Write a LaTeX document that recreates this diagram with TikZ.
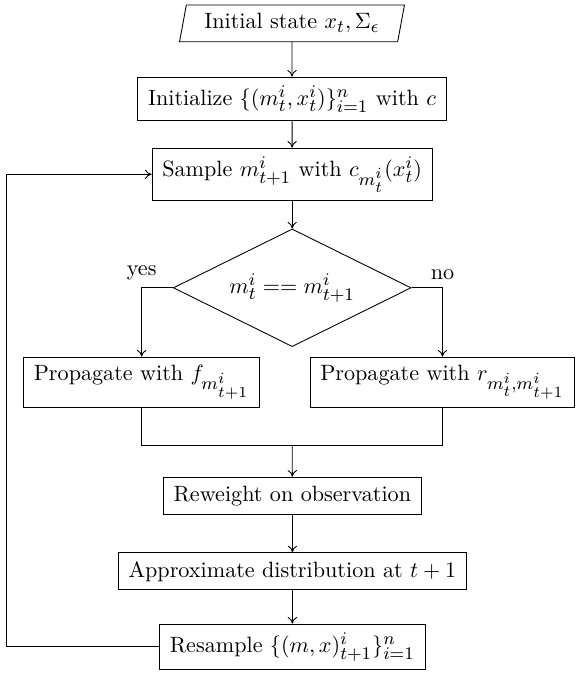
\documentclass[tikz,border=0pt]{standalone}
\DeclareMathSizes{10}{10}{8}{7}
\usetikzlibrary{shapes.geometric,arrows.meta}
\begin{document}
\begin{tikzpicture}[x=0.4513pt,y=-0.4513pt,
  box/.style={draw, rectangle, inner xsep=4.6pt, inner ysep=3.8pt},
  io/.style={draw, trapezium, trapezium left angle=71, trapezium right angle=109, trapezium stretches body, minimum width=101.5pt, minimum height=16.6pt, inner sep=0pt},
  dec/.style={draw, diamond, aspect=2, minimum width=107.3pt, minimum height=53.1pt, inner sep=0pt},
  arr/.style={-{To[length=3pt,width=4.2pt]}},
]
\useasboundingbox (0,0) rectangle (577,673);
\node[io] (init) at (292,23.4) {Initial state $x_t, \Sigma_\epsilon$};
\node[box] (initz) at (292,99) {Initialize $\{(m_t^i, x_t^i)\}_{i=1}^n$ with $c$};
\node[box] (samp) at (292.2,174.3) {Sample $m_{t+1}^i$ with $c_{m_t^i}(x_t^i)$};
\node[dec] (dec) at (292.2,287.8) {$m_t^i == m_{t+1}^i$};
\node[box] (pl) at (141.7,382.2) {Propagate with $f_{m_{t+1}^i}$};
\node[box] (pr) at (442.5,382.2) {Propagate with $r_{m_t^i, m_{t+1}^i}$};
\coordinate (merge) at (292.2,445.3);
\node[box] (rew) at (292.4,495.6) {Reweight on observation};
\node[box] (appr) at (292.4,571.3) {Approximate distribution at $t+1$};
\node[box] (res) at (292.4,646.8) {Resample $\{(m,x)_{t+1}^i\}_{i=1}^n$};
\coordinate (lx) at (6,0);
\draw[arr] (init) -- (initz);
\draw[arr] (initz) -- (samp);
\draw[arr] (samp) -- (dec);
\draw[arr] (dec.west) -| node[pos=0.5,above] {yes} (pl.north);
\draw[arr] (dec.east) -| node[pos=0.5,above] {no} (pr.north);
\draw (pl.south) |- (merge) -| (pr.south);
\draw[arr] (merge) -- (rew);
\draw[arr] (rew) -- (appr);
\draw[arr] (appr) -- (res);
\draw[arr] (res.west) -- (lx |- res.west) -- (lx |- samp.west) -- (samp.west);
\end{tikzpicture}
\end{document}
